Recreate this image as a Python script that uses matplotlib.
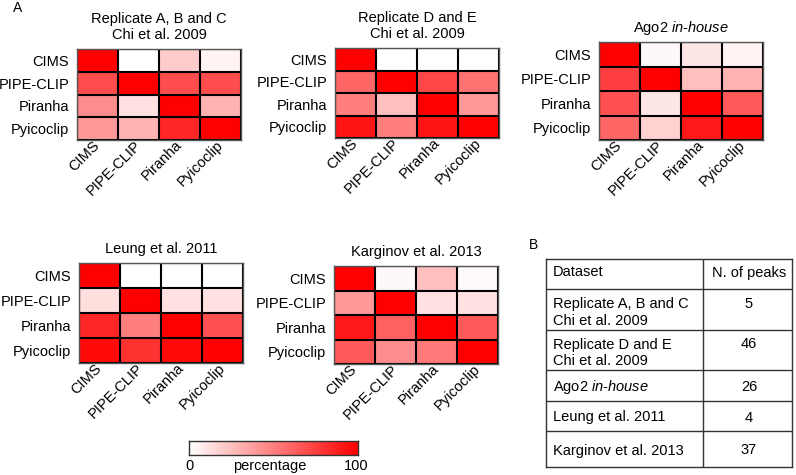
import numpy as np
import matplotlib
matplotlib.use('Agg')
import matplotlib.pyplot as plt
from matplotlib.colors import LinearSegmentedColormap

plt.rcParams['font.family'] = ['Liberation Sans', 'DejaVu Sans']
plt.rcParams['mathtext.fontset'] = 'custom'
plt.rcParams['mathtext.rm'] = 'Liberation Sans'
plt.rcParams['mathtext.it'] = 'Liberation Sans:italic'

# tools compared in every panel
tools = ['CIMS', 'PIPE-CLIP', 'Piranha', 'Pyicoclip']

# panel titles
titles = ['Replicate A, B and C\nChi et al. 2009',
          'Replicate D and E\nChi et al. 2009',
          r'Ago2 $\it{in}$-$\it{house}$',
          'Leung et al. 2011',
          'Karginov et al. 2013']

# overlap percentages (rows = tool, cols = tool)
rep_abc = [[100, 0, 20, 5],
           [70, 100, 70, 70],
           [45, 12, 100, 30],
           [40, 30, 85, 100]]
rep_de = [[100, 0, 0, 0],
          [60, 100, 72, 55],
          [50, 25, 100, 40],
          [92, 50, 92, 100]]
ago2 = [[100, 3, 10, 5],
        [75, 100, 25, 30],
        [68, 10, 100, 65],
        [60, 18, 90, 100]]
leung = [[100, 0, 0, 0],
         [13, 100, 12, 12],
         [85, 50, 100, 68],
         [96, 80, 96, 100]]
karginov = [[100, 3, 25, 2],
            [40, 100, 12, 12],
            [90, 62, 100, 65],
            [65, 45, 52, 100]]

# table B
datasets = ['Replicate A, B and C\nChi et al. 2009',
            'Replicate D and E\nChi et al. 2009',
            r'Ago2 $\it{in}$-$\it{house}$',
            'Leung et al. 2011',
            'Karginov et al. 2013']
n_peaks = [5, 46, 26, 4, 37]

W, H = 796, 475
cmap = LinearSegmentedColormap.from_list('wr', ['#ffffff', '#ff0000'])


def px_rect(x, y, w, h):
    return [x / W, 1 - (y + h) / H, w / W, h / H]


def heatmap(rect, data, title):
    ax = fig.add_axes(px_rect(*rect))
    ax.imshow(np.array(data), cmap=cmap, vmin=0, vmax=100, aspect='auto',
              interpolation='nearest')
    n = len(tools)
    ax.set_xticks(range(n))
    ax.set_yticks(range(n))
    ax.set_xticklabels(tools, rotation=45, ha='right', va='center',
                       rotation_mode='anchor')
    ax.set_yticklabels(tools)
    ax.set_xticks(np.arange(-0.5, n, 1), minor=True)
    ax.set_yticks(np.arange(-0.5, n, 1), minor=True)
    ax.grid(which='minor', color='black', linewidth=1.5)
    ax.tick_params(which='both', length=0, labelsize=10.5)
    ax.tick_params(axis='x', pad=2)
    ax.tick_params(axis='y', pad=5.5)
    for s in ax.spines.values():
        s.set_color('#555555')
        s.set_linewidth(1.0)
    ax.set_title(title, fontsize=10.5, pad=7, linespacing=1.25)
    return ax


fig = plt.figure(figsize=(W / 100, H / 100), dpi=100)

rects = [(77, 49, 164, 91), (335, 48, 164, 90), (599, 42, 164, 98),
         (79, 263, 164, 100), (334, 266, 164, 98)]
for r, d, t in zip(rects, [rep_abc, rep_de, ago2, leung, karginov], titles):
    heatmap(r, d, t)

fig.text(18 / W, 1 - 8 / H, 'A', fontsize=10, ha='center', va='center')
fig.text(534 / W, 1 - 245 / H, 'B', fontsize=10, ha='center', va='center')

# colour bar
cax = fig.add_axes(px_rect(189, 441, 169, 14))
grad = np.linspace(0, 100, 256)[None, :]
cax.imshow(grad, cmap=cmap, aspect='auto', extent=[0, 100, 0, 1])
cax.set_xticks([])
cax.set_yticks([])
for s in cax.spines.values():
    s.set_color('#333333')
    s.set_linewidth(1.0)
fig.text(190 / W, 1 - 466 / H, '0', fontsize=10.5, ha='center', va='center')
fig.text(270 / W, 1 - 466 / H, 'percentage', fontsize=10.5, ha='center', va='center')
fig.text(356 / W, 1 - 466 / H, '100', fontsize=10.5, ha='center', va='center')

# table
tax = fig.add_axes(px_rect(546, 259, 246, 208))
row_h = [30, 41, 40, 31, 30, 36]
total = sum(row_h)
tax.set_xlim(0, 1)
tax.set_ylim(total, 0)
tax.set_xticks([])
tax.set_yticks([])
for s in tax.spines.values():
    s.set_color('#333333')
    s.set_linewidth(1.0)
div = (703 - 546) / 246
tax.axvline(div, color='#333333', lw=1.0)
edges = np.cumsum(row_h)
for e in edges[:-1]:
    tax.axhline(e, color='#333333', lw=1.0)

tops = np.concatenate([[0], edges[:-1]])
centers = tops + np.array(row_h) / 2
x_left = (553 - 546) / 246
x_num = (749 - 546) / 246
tax.text(x_left, centers[0] - 1.5, 'Dataset', fontsize=10.5, ha='left', va='center')
tax.text(x_num, centers[0] - 1.5, 'N. of peaks', fontsize=10.5, ha='center', va='center')
line_px = 17
for i, (name, n) in enumerate(zip(datasets, n_peaks)):
    nlines = name.count('\n') + 1
    c = centers[i + 1] + (3 if nlines > 1 else 1.5)
    tax.text(x_left, c, name, fontsize=10.5, ha='left', va='center', linespacing=1.2)
    tax.text(x_num, c - (nlines - 1) * line_px / 2, str(n), fontsize=10.5,
             ha='center', va='center')

fig.savefig('out.png', dpi=100)
